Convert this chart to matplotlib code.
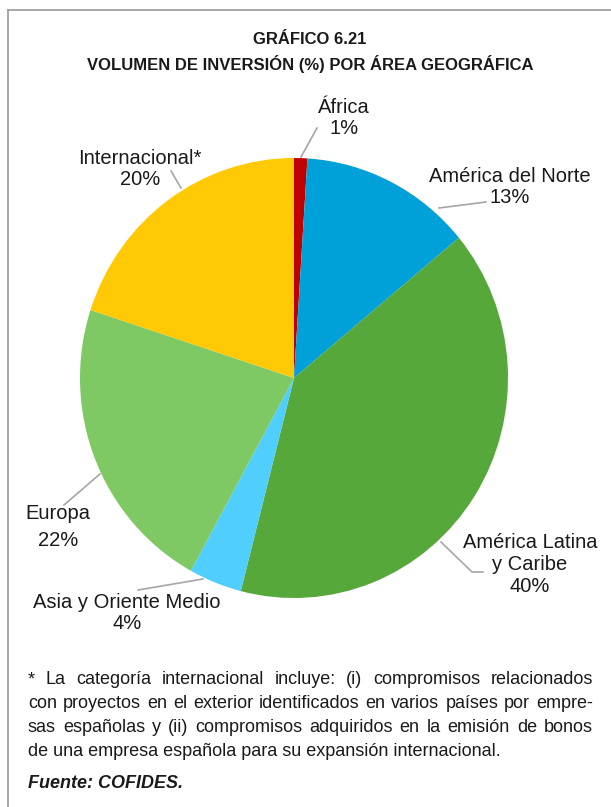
import matplotlib
matplotlib.use("Agg")
import matplotlib.pyplot as plt
from matplotlib.lines import Line2D

# --- data ------------------------------------------------------------------------------
regions = ["África", "América del Norte", "América Latina\ny Caribe",
           "Asia y Oriente Medio", "Europa", "Internacional*"]
shares = [1, 13, 40, 4, 22, 20]
colors = ["#C00000", "#00A0D9", "#56A83B", "#50CFFF", "#7EC964", "#FFC905"]

title_lines = ["GRÁFICO 6.21", "VOLUMEN DE INVERSIÓN (%) POR ÁREA GEOGRÁFICA"]
note_lines = [
    "* La categoría internacional incluye: (i) compromisos relacionados",
    "con proyectos en el exterior identificados en varios países por empre-",
    "sas españolas y (ii) compromisos adquiridos en la emisión de bonos",
    "de una empresa española para su expansión internacional.",
]
source = "Fuente: COFIDES."

W, H = 611, 807
DPI = 100
TXT = "#1a1a1a"
LEAD = "#a6a6a6"
NOTE_FS = 13.0

plt.rcParams["font.family"] = ["Liberation Sans", "DejaVu Sans"]

fig = plt.figure(figsize=(W / DPI, H / DPI), dpi=DPI)


def fx(px):
    return px / W


def fy(py):
    return 1 - py / H


# frame (top + left only, the rest is cropped in the original)
fig.add_artist(Line2D([fx(8), 1], [fy(10), fy(10)], color="#9a9a9a", lw=1.2))
fig.add_artist(Line2D([fx(8), fx(8)], [fy(10), 0], color="#9a9a9a", lw=1.2))

# title
for txt, py in zip(title_lines, [40, 64]):
    fig.text(fx(310), fy(py), txt, ha="center", va="center", fontsize=12,
             fontweight="bold", color=TXT)

# pie (slightly taller than wide, as in the source)
cx, cy, rx, ry = 294, 378, 214, 220
ax = fig.add_axes([fx(cx - rx), fy(cy + ry), 2 * rx / W, 2 * ry / H])
ax.pie(shares, colors=colors, startangle=90, counterclock=False,
       wedgeprops=dict(linewidth=0))
ax.set_aspect("auto")
ax.set_xlim(-1, 1)
ax.set_ylim(-1, 1)
ax.axis("off")

# labels: (text position, leader polyline) in image pixels
label_pos = [(344, 118), (510, 187), (530, 565), (127, 613), (58, 527), (140, 169)]
leaders = [
    [(301, 157), (317, 128)],
    [(439, 208), (486, 202)],
    [(441, 542), (472, 572), (483, 572)],
    [(203, 579), (138, 590)],
    [(100, 474), (64, 505)],
    [(181, 188), (171, 171)],
]
linesp = {2: 1.2, 4: 1.55}
for i, (name, val) in enumerate(zip(regions, shares)):
    px, py = label_pos[i]
    fig.text(fx(px), fy(py), f"{name}\n{val}%", ha="center", va="center",
             fontsize=14.5, color=TXT, linespacing=linesp.get(i, 1.15))
    pts = leaders[i]
    fig.add_artist(Line2D([fx(p[0]) for p in pts], [fy(p[1]) for p in pts],
                          color=LEAD, lw=1.2))

# footnote, justified like the printed page
renderer = fig.canvas.get_renderer()
x0, x1 = 28, 593
note_y = [680, 704, 728, 752]
for k, (line, py) in enumerate(zip(note_lines, note_y)):
    if k == len(note_lines) - 1:
        fig.text(fx(x0), fy(py), line, ha="left", va="center", fontsize=NOTE_FS, color=TXT)
        continue
    words = line.split(" ")
    arts = [fig.text(0, fy(py), w, ha="left", va="center", fontsize=NOTE_FS, color=TXT)
            for w in words]
    widths = [a.get_window_extent(renderer).width for a in arts]
    gap = (x1 - x0 - sum(widths)) / (len(words) - 1)
    x = x0
    for a, wd in zip(arts, widths):
        a.set_x(fx(x))
        x += wd + gap

fig.text(fx(x0), fy(783), source, ha="left", va="center", fontsize=NOTE_FS,
         fontweight="bold", fontstyle="italic", color=TXT)

fig.savefig("out.png", dpi=DPI)
